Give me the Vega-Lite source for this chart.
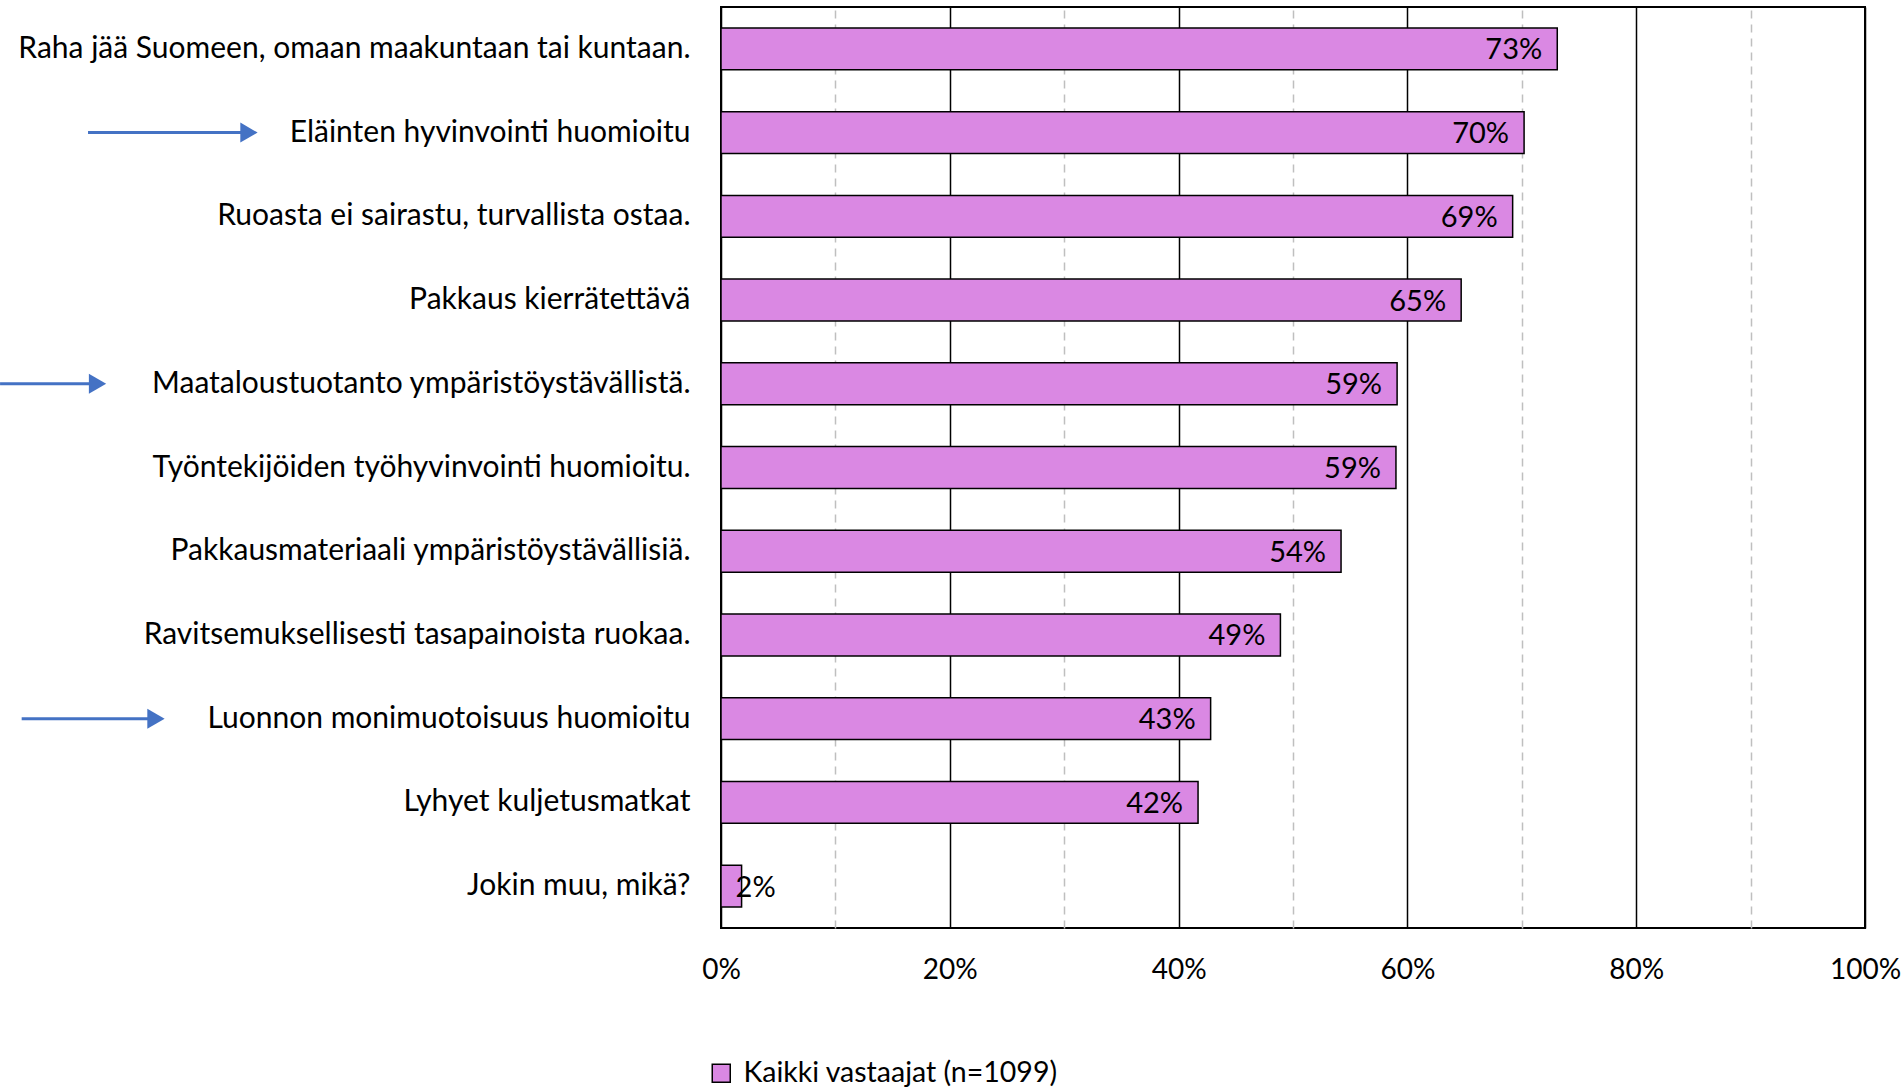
{
  "$schema": "https://vega.github.io/schema/vega-lite/v6.json",
  "width": 1144,
  "height": 921,
  "autosize": {"type": "none"},
  "padding": {"left": 721, "top": 7, "right": 38, "bottom": 159},
  "background": "white",
  "config": {"font": "Lato", "view": {"stroke": "black", "strokeWidth": 2}},
  "datasets": {
    "bars": [
      {"item": "Raha jää Suomeen, omaan maakuntaan tai kuntaan.", "share": 0.731, "series": "Kaikki vastaajat (n=1099)"},
      {"item": "Eläinten hyvinvointi huomioitu", "share": 0.702, "series": "Kaikki vastaajat (n=1099)"},
      {"item": "Ruoasta ei sairastu, turvallista ostaa.", "share": 0.692, "series": "Kaikki vastaajat (n=1099)"},
      {"item": "Pakkaus kierrätettävä", "share": 0.647, "series": "Kaikki vastaajat (n=1099)"},
      {"item": "Maataloustuotanto ympäristöystävällistä.", "share": 0.591, "series": "Kaikki vastaajat (n=1099)"},
      {"item": "Työntekijöiden työhyvinvointi huomioitu.", "share": 0.590, "series": "Kaikki vastaajat (n=1099)"},
      {"item": "Pakkausmateriaali ympäristöystävällisiä.", "share": 0.542, "series": "Kaikki vastaajat (n=1099)"},
      {"item": "Ravitsemuksellisesti tasapainoista ruokaa.", "share": 0.489, "series": "Kaikki vastaajat (n=1099)"},
      {"item": "Luonnon monimuotoisuus huomioitu", "share": 0.428, "series": "Kaikki vastaajat (n=1099)"},
      {"item": "Lyhyet kuljetusmatkat", "share": 0.417, "series": "Kaikki vastaajat (n=1099)"},
      {"item": "Jokin muu, mikä?", "share": 0.018, "series": "Kaikki vastaajat (n=1099)"}
    ],
    "arrows": [
      {"item": "Eläinten hyvinvointi huomioitu", "start": -0.5533, "end": -0.4188, "head": -0.4126},
      {"item": "Maataloustuotanto ympäristöystävällistä.", "start": -0.6302, "end": -0.5516, "head": -0.5450},
      {"item": "Luonnon monimuotoisuus huomioitu", "start": -0.6113, "end": -0.5000, "head": -0.4939}
    ]
  },
  "layer": [
    {
      "data": {"name": "bars"},
      "mark": {"type": "bar", "stroke": "black", "strokeWidth": 1.5},
      "encoding": {
        "y": {
          "field": "item", "type": "nominal", "title": null,
          "scale": {
            "domain": [
              "Raha jää Suomeen, omaan maakuntaan tai kuntaan.",
              "Eläinten hyvinvointi huomioitu",
              "Ruoasta ei sairastu, turvallista ostaa.",
              "Pakkaus kierrätettävä",
              "Maataloustuotanto ympäristöystävällistä.",
              "Työntekijöiden työhyvinvointi huomioitu.",
              "Pakkausmateriaali ympäristöystävällisiä.",
              "Ravitsemuksellisesti tasapainoista ruokaa.",
              "Luonnon monimuotoisuus huomioitu",
              "Lyhyet kuljetusmatkat",
              "Jokin muu, mikä?"
            ],
            "paddingInner": 0.5, "paddingOuter": 0.25
          },
          "axis": {
            "domain": false, "ticks": false, "grid": false,
            "labelFontSize": 30, "labelColor": "black", "labelPadding": 31, "labelLimit": 0
          }
        },
        "x": {
          "field": "share", "type": "quantitative", "title": null,
          "scale": {"domain": [0, 1], "nice": false, "zero": true},
          "axis": {
            "values": [0, 0.1, 0.2, 0.3, 0.4, 0.5, 0.6, 0.7, 0.8, 0.9, 1],
            "format": ".0%",
            "labelExpr": "round(datum.value*100) % 20 == 0 ? datum.label : ''",
            "domain": false, "ticks": false, "grid": true,
            "gridColor": {"condition": {"test": "round(datum.value*10) % 2 == 1", "value": "#BFBFBF"}, "value": "black"},
            "gridDash": {"condition": {"test": "round(datum.value*10) % 2 == 1", "value": [8, 6]}, "value": []},
            "gridWidth": 1.5,
            "labelFontSize": 28, "labelColor": "black", "labelPadding": 28,
            "labelFlush": false, "labelOverlap": false
          }
        },
        "color": {
          "field": "series", "type": "nominal",
          "scale": {"range": ["#DA88E3"]},
          "legend": {
            "title": null, "orient": "none", "legendX": -14, "legendY": 1052,
            "symbolType": "square", "symbolSize": 324, "symbolStrokeColor": "black", "symbolStrokeWidth": 1.5,
            "symbolOpacity": 1,
            "labelFontSize": 28.5, "labelColor": "black", "labelOffset": 8, "labelLimit": 0, "padding": 0
          }
        }
      }
    },
    {
      "data": {"name": "bars"},
      "transform": [{"filter": "datum.share >= 0.1"}],
      "mark": {"type": "text", "align": "right", "baseline": "middle", "dx": -15, "dy": 1.5, "fontSize": 29, "color": "black"},
      "encoding": {
        "y": {"field": "item", "type": "nominal", "title": null},
        "x": {"field": "share", "type": "quantitative", "title": null},
        "text": {"field": "share", "type": "quantitative", "format": ".0%"}
      }
    },
    {
      "data": {"name": "bars"},
      "transform": [{"filter": "datum.share < 0.1"}],
      "mark": {"type": "text", "align": "left", "baseline": "middle", "dx": -6, "dy": 1.5, "fontSize": 29, "color": "black"},
      "encoding": {
        "y": {"field": "item", "type": "nominal", "title": null},
        "x": {"field": "share", "type": "quantitative", "title": null},
        "text": {"field": "share", "type": "quantitative", "format": ".0%"}
      }
    },
    {
      "data": {"name": "arrows"},
      "mark": {"type": "rule", "color": "#4472C4", "strokeWidth": 3},
      "encoding": {
        "y": {"field": "item", "type": "nominal", "title": null},
        "x": {"field": "start", "type": "quantitative", "title": null},
        "x2": {"field": "end"}
      }
    },
    {
      "data": {"name": "arrows"},
      "mark": {"type": "point", "shape": "triangle-right", "filled": true, "color": "#4472C4", "size": 400, "opacity": 1},
      "encoding": {
        "y": {"field": "item", "type": "nominal", "title": null},
        "x": {"field": "head", "type": "quantitative", "title": null}
      }
    }
  ]
}
